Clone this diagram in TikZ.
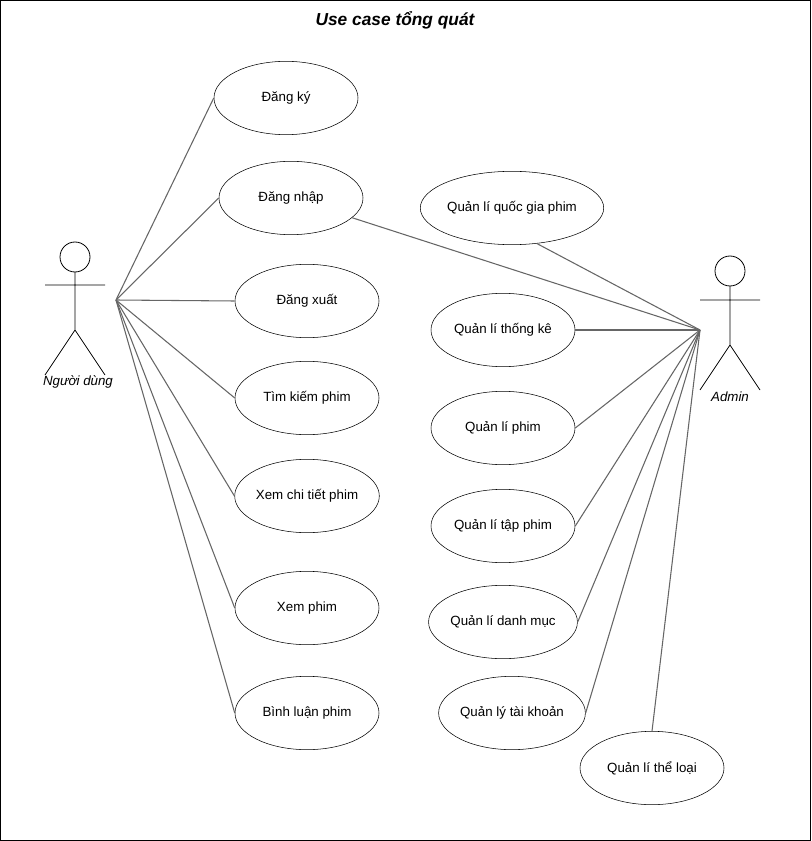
\documentclass[tikz,border=0pt]{standalone}
\usepackage{fontspec}
\setmainfont{Liberation Sans}
\usetikzlibrary{shapes.geometric}

\begin{document}
\begin{tikzpicture}[x=0.75pt, y=-0.75pt, font=\fontsize{10}{12}\selectfont,
	uc/.style={ellipse, draw, minimum width=108pt, minimum height=55pt, inner sep=0pt},
	link/.style={draw=black!60, line width=0.8pt},
	actor/.style={line width=0.6pt}]
	\useasboundingbox (0,0) rectangle (811,841);
	\draw [line width=0.8pt] (0.5,0.5) rectangle (810.5,840.5);
	\node (title) at (395,20) {\fontsize{13}{15}\selectfont\bfseries\itshape Use case tổng quát};

	% Actors
	\draw [actor] (75,257) circle (15);
	\draw [actor] (75,272) -- (75,330) (45,285) -- (105,285) (45,375) -- (75,330) -- (105,375);
	\node (user) at (78,382) {\itshape Người dùng};
	\coordinate (u) at (116,300);

	\draw [actor] (730,271) circle (15);
	\draw [actor] (730,286) -- (730,345) (700,300) -- (760,300) (700,390) -- (730,345) -- (760,390);
	\node (admin) at (730,397) {\itshape Admin};
	\coordinate (a) at (700,330);

	% Use cases {user}
	\node [uc] (dk)   at (286,98)  {Đăng ký};
	\node [uc] (dn)   at (291,198) {Đăng nhập};
	\node [uc] (dx)   at (307,301) {Đăng xuất};
	\node [uc] (tk)   at (307,398) {Tìm kiếm phim};
	\node [uc] (ct)   at (307,496) {Xem chi tiết phim};
	\node [uc] (xp)   at (307,608) {Xem phim};
	\node [uc] (bl)   at (307,713) {Bình luận phim};

	% Use cases {admin}
	\node [uc] (qg)   at (512,208) {Quản lí quốc gia phim};
	\node [uc] (thk)  at (503,330) {Quản lí thống kê};
	\node [uc] (ph)   at (503,428) {Quản lí phim};
	\node [uc] (tp)   at (503,526) {Quản lí tập phim};
	\node [uc] (dm)   at (503,622) {Quản lí danh mục};
	\node [uc] (tkh)  at (512,713) {Quản lý tài khoản};
	\node [uc] (tl)   at (652,768) {Quản lí thể loại};

	% Paths
	\foreach \n in {dk,dn,dx,tk,ct,xp,bl}
		\path [link] (u) -- (\n.west);
	\path [link] (a) -- (dn);
	\path [link] (a) -- (qg.-55);
	\foreach \n in {thk,ph,tp,dm,tkh}
		\path [link] (a) -- (\n.east);
	\path [link] (a) -- (tl.north);
\end{tikzpicture}
\end{document}
